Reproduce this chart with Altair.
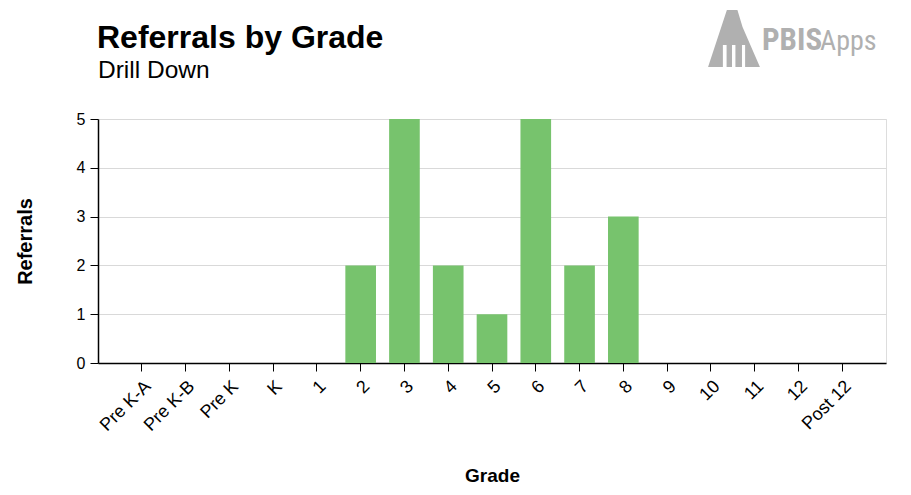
import altair as alt
import pandas as pd

grades = ["Pre K-A", "Pre K-B", "Pre K", "K", "1", "2", "3", "4", "5", "6",
          "7", "8", "9", "10", "11", "12", "Post 12"]
referrals = [0, 0, 0, 0, 0, 2, 5, 2, 1, 5, 2, 3, 0, 0, 0, 0, 0]
y_ticks = [0, 1, 2, 3, 4, 5]
title_text = "Referrals by Grade"
subtitle_text = "Drill Down"

df = pd.DataFrame({"Grade": grades, "Referrals": referrals})

FONT = "Liberation Sans"
NARROW = "Liberation Sans Narrow, Roboto Condensed, DejaVu Sans Condensed, Liberation Sans"
LOGO_GRAY = "#b0b0b0"

bars = alt.Chart(df).mark_bar(color="#77C36D").encode(
    x=alt.X("Grade:N", sort=grades,
            scale=alt.Scale(paddingInner=0.3, paddingOuter=0.65),
            axis=alt.Axis(title="Grade", labelAngle=-45, labelFontSize=18,
                          labelFont=FONT, labelColor="#000000",
                          tickSize=8, tickColor="#000000", domainColor="#000000",
                          domainWidth=1.5, labelPadding=6,
                          titleFontSize=19, titleFont=FONT, titleFontWeight="bold",
                          titleY=118, titleBaseline="alphabetic", grid=False)),
    y=alt.Y("Referrals:Q",
            scale=alt.Scale(domain=[0, 5], nice=False),
            axis=alt.Axis(title="Referrals", values=y_ticks, labelFontSize=16,
                          labelFont=FONT, labelColor="#000000",
                          tickSize=8, tickColor="#000000", domainColor="#000000",
                          domainWidth=1.5, labelPadding=5,
                          gridColor="#d9d9d9", gridWidth=1.2,
                          titleFontSize=20, titleFont=FONT, titleFontWeight="bold",
                          titleX=-73, titleY=122, titleBaseline="middle",
                          titleAngle=-90)),
)

one = alt.Chart(df).transform_filter(alt.datum.Grade == "K")

title_mark = one.mark_text(
    text=title_text, font=FONT, fontWeight="bold", fontSize=32, color="#000000",
    align="left", baseline="alphabetic"
).encode(x=alt.value(-1), y=alt.value(-71))

subtitle_mark = one.mark_text(
    text=subtitle_text, font=FONT, fontSize=24.5, color="#000000",
    align="left", baseline="alphabetic"
).encode(x=alt.value(0), y=alt.value(-41))

logo_path = ("M-0.91,1L-0.25,-1L0.12,-1L0.3,-0.4L0.91,1Z"
             "M-0.39,1L-0.26,1L-0.26,0.23L-0.39,0.23Z"
             "M-0.07,1L0.05,1L0.05,0.23L-0.07,0.23Z"
             "M0.28,1L0.39,1L0.39,0.23L0.28,0.23Z")

logo_icon = one.mark_point(
    shape=logo_path, filled=True, color=LOGO_GRAY, opacity=1, size=3249
).encode(x=alt.value(636), y=alt.value(-80.5))

logo_pbis = one.mark_text(
    text="PBIS", font=NARROW, fontWeight="bold", fontSize=31, color=LOGO_GRAY,
    align="left", baseline="alphabetic"
).encode(x=alt.value(664), y=alt.value(-69))

logo_apps = one.mark_text(
    text="Apps", font=NARROW, fontSize=28, color=LOGO_GRAY,
    align="left", baseline="alphabetic"
).encode(x=alt.value(722), y=alt.value(-69))

chart = alt.layer(bars, title_mark, subtitle_mark, logo_icon, logo_pbis, logo_apps).properties(
    width=788,
    height=244,
    autosize=alt.AutoSizeParams(type="none"),
    padding={"left": 90, "top": 111, "right": 17, "bottom": 124},
).configure_view(stroke=None).configure(background="white")

chart.save("out.html", embed_options={"renderer": "svg", "actions": False})
